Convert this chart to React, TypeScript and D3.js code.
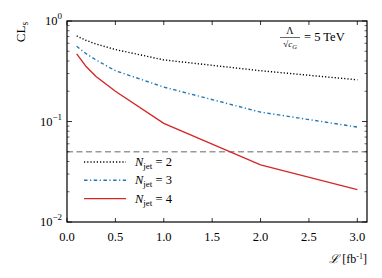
import * as d3 from 'd3'

const lumi = [0.1, 0.2, 0.3, 0.5, 1.0, 2.0, 3.0]
const clsJet2 = [0.71, 0.64, 0.59, 0.52, 0.41, 0.32, 0.26]
const clsJet3 = [0.56, 0.47, 0.41, 0.32, 0.22, 0.124, 0.088]
const clsJet4 = [0.47, 0.35, 0.28, 0.2, 0.096, 0.037, 0.021]
const xTicks = [0, 0.5, 1.0, 1.5, 2.0, 2.5, 3.0]
const yDecades = [-2, -1, 0]
const threshold = 0.05

const W = 382
const H = 278
const m = { left: 67, right: 15, top: 21, bottom: 56 }
const FONT = "'Liberation Serif', 'DejaVu Serif', serif"

export default function App() {
  const x = d3.scaleLinear().domain([0, 3.1]).range([m.left, W - m.right])
  const y = d3.scaleLog().domain([0.01, 1]).range([H - m.bottom, m.top])
  const line = d3.line<number>().x((_, i) => x(lumi[i])).y(d => y(d))

  const minor: number[] = []
  for (let e = -2; e < 0; e++) for (let k = 2; k <= 9; k++) minor.push(k * Math.pow(10, e))

  const x0 = m.left, x1 = W - m.right, y0 = H - m.bottom, y1 = m.top

  const series = [
    { vals: clsJet2, color: '#000', dash: '1.2,2', label: '2' },
    { vals: clsJet3, color: '#1f77b4', dash: '3.5,2.5,1.2,2.5', label: '3' },
    { vals: clsJet4, color: '#d62728', dash: undefined, label: '4' },
  ]

  return (
    <svg width={W} height={H} style={{ position: 'absolute', left: 0, top: 0 }} fontFamily={FONT}>
      <rect width={W} height={H} fill="#fff" />
      {/* threshold */}
      <line x1={x0} x2={x1} y1={y(threshold)} y2={y(threshold)} stroke="#999" strokeWidth={1.3} strokeDasharray="6,3.5" />
      {series.map(s => (
        <path key={s.label} d={line(s.vals) ?? ''} fill="none" stroke={s.color} strokeWidth={1.4} strokeDasharray={s.dash} />
      ))}
      {/* frame */}
      <rect x={x0} y={y1} width={x1 - x0} height={y0 - y1} fill="none" stroke="#000" strokeWidth={1.2} />
      {xTicks.map(t => (
        <g key={t}>
          <line x1={x(t)} x2={x(t)} y1={y0} y2={y0 - 4} stroke="#000" strokeWidth={0.8} />
          <line x1={x(t)} x2={x(t)} y1={y1} y2={y1 + 4} stroke="#000" strokeWidth={0.8} />
          <text x={x(t)} y={y0 + 19} fontSize={12.5} textAnchor="middle">{t.toFixed(1)}</text>
        </g>
      ))}
      {yDecades.map(e => (
        <g key={e}>
          <line x1={x0} x2={x0 + 5} y1={y(Math.pow(10, e))} y2={y(Math.pow(10, e))} stroke="#000" strokeWidth={0.8} />
          <line x1={x1} x2={x1 - 5} y1={y(Math.pow(10, e))} y2={y(Math.pow(10, e))} stroke="#000" strokeWidth={0.8} />
          <text x={x0 - 5} y={y(Math.pow(10, e)) + 4} fontSize={12.5} textAnchor="end">
            10<tspan dy={-6} fontSize={9}>{e === 0 ? '0' : '\u2212' + Math.abs(e)}</tspan>
          </text>
        </g>
      ))}
      {minor.map(v => (
        <g key={v}>
          <line x1={x0} x2={x0 + 2.5} y1={y(v)} y2={y(v)} stroke="#000" strokeWidth={0.6} />
          <line x1={x1} x2={x1 - 2.5} y1={y(v)} y2={y(v)} stroke="#000" strokeWidth={0.6} />
        </g>
      ))}
      {/* axis labels */}
      <text transform={`translate(25,${y1 + 11}) rotate(-90)`} fontSize={13} textAnchor="middle">
        CL<tspan dy={3} fontSize={9.5}>s</tspan>
      </text>
      <text x={x1} y={y0 + 41} fontSize={12} textAnchor="end">
        <tspan fontStyle="italic">ℒ</tspan> [fb<tspan dy={-4} fontSize={8}>-1</tspan><tspan dy={4}>]</tspan>
      </text>
      {/* annotation */}
      <g>
        <text x={290} y={34} textAnchor="middle" fontSize={10}>Λ</text>
        <line x1={280} x2={300} y1={37.5} y2={37.5} stroke="#000" strokeWidth={0.6} />
        <text x={290} y={47} textAnchor="middle" fontSize={9}>√<tspan fontStyle="italic">c</tspan><tspan fontSize={6.5} dy={2} fontStyle="italic">G</tspan></text>
        <text x={304} y={41} fontSize={12.5}>= 5 TeV</text>
      </g>
      {/* legend */}
      {series.map((s, i) => {
        const ly = 162 + i * 18.3
        return (
          <g key={s.label}>
            <line x1={84} x2={126} y1={ly} y2={ly} stroke={s.color} strokeWidth={1.4} strokeDasharray={s.dash} />
            <text x={135} y={ly + 4} fontSize={12.5}>
              <tspan fontStyle="italic">N</tspan><tspan fontSize={9} dy={3}>jet</tspan><tspan dy={-3}> = {s.label}</tspan>
            </text>
          </g>
        )
      })}
    </svg>
  )
}
